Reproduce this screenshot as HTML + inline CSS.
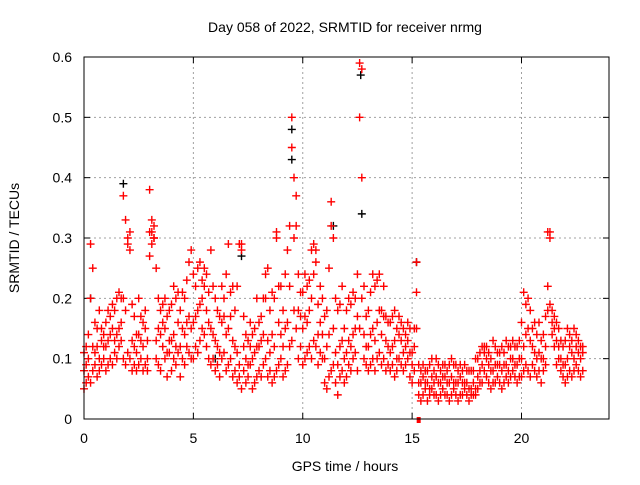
<!DOCTYPE html>
<html><head><meta charset="utf-8"><style>
body{margin:0;background:#fff;}
svg text{font-family:"Liberation Sans",sans-serif;font-size:14px;fill:#000;}
</style></head><body>
<svg id="chart" width="640" height="480" xmlns="http://www.w3.org/2000/svg">
<text x="345" y="32" text-anchor="middle">Day 058 of 2022, SRMTID for receiver nrmg</text>
<text x="345" y="471" text-anchor="middle">GPS time / hours</text>
<text transform="translate(19,238) rotate(-90)" text-anchor="middle">SRMTID / TECUs</text>
<g id="grid"></g>
<g id="ticks"></g>
<g id="marks"></g>
<rect x="84" y="57" width="525" height="362" fill="none" stroke="#000" stroke-width="1"/>
</svg>
<script>
const xTicks=[0,5,10,15,20];
const yTicks=[0,0.1,0.2,0.3,0.4,0.5,0.6];
const yTickLabels=["0","0.1","0.2","0.3","0.4","0.5","0.6"];
const t0=0, dt=0.1;
const lo=[5,6,7,6,8,9,7,8,9,10, 8,9,10,9,11,10,12,13,10,9, 11,10,8,9,8,9,10,8,9,8, 27,29,30,10,9,8,12,10,7,11, 8,10,9,11,7,10,9,12,11,10, 10,12,11,13,15,14,12,10,9,10, 8,9,7,10,11,8,9,10,7,8, 6,7,5,8,6,7,9,5,6,7, 8,7,9,10,7,8,6,7,8,9, 10,7,8,9,12,13,18,15,10,12, 9,10,11,12,10,13,12,9,11,10, 6,5,7,8,9,6,4,7,8,6, 7,9,8,10,11,8,15,20,10,9, 8,9,10,8,10,11,9,10,8,9, 8,9,7,8,10,9,8,9,10,7, 6,8,15,4,3,4,5,3,4,5, 4,4,3,4,5,4,4,3,4,5, 4,3,4,4,5,4,3,4,4,4, 5,6,6,8,7,6,5,6,6,7, 6,5,6,7,6,7,8,7,6,7, 7,8,9,8,7,9,8,7,8,6, 8,9,18,19,14,12,9,10,8,7, 6,7,8,7,8,9,8,7,8];
const mid=[8,9,10,20,12,11,12,10,13,12, 12,13,14,15,13,14,15,16,20,18, 29,28,13,12,11,14,13,12,15,10, 31,31,30,13,15,14,16,15,11,13, 13,14,12,16,12,15,14,16,17,15, 16,17,18,19,20,22,18,16,15,14, 13,12,11,16,17,14,15,17,13,12, 11,9,28,12,10,9,12,10,11,12, 12,13,14,20,13,11,14,12,30,16, 14,12,15,16,22,45,30,32,18,17, 15,17,16,18,20,24,26,14,16,14, 10,12,14,32,15,11,9,12,13,10, 11,13,12,14,15,17,50,40,14,12, 12,14,15,13,16,18,14,17,13,12, 11,12,13,10,14,13,11,12,13,11, 9,12,21,6,6,7,6,6,5,7, 6,7,6,6,7,7,6,6,7,6, 6,6,7,6,6,6,5,5,6,5, 7,8,9,11,10,9,8,8,9,9, 9,8,9,9,8,10,10,9,9,10, 10,12,14,15,13,12,11,10,11,10, 10,12,22,30,16,15,13,12,10,9, 9,10,12,11,10,12,11,10,11];
const hi=[11,12,14,29,25,16,15,18,15,14, 16,18,17,19,18,20,21,20,37,33, 30,31,19,17,14,20,17,16,18,13, 38,33,32,25,20,18,19,20,17,18, 19,22,20,21,18,21,20,23,26,28, 24,22,25,26,23,25,24,21,28,22, 20,18,17,22,20,24,29,21,22,18, 22,29,29,17,14,13,16,14,15,20, 16,17,20,24,25,18,21,20,31,22, 22,18,24,28,32,50,40,37,24,21, 21,24,22,23,28,29,28,19,22,20, 17,18,25,36,30,20,18,19,22,15, 18,20,19,21,20,24,59,58,22,17, 18,21,24,22,23,24,18,22,17,16, 16,17,18,15,17,16,15,14,16,15, 11,15,26,9,8,9,8,8,9,10, 8,10,9,8,9,9,8,9,10,9, 9,8,9,8,9,8,8,8,8,10, 10,11,12,12,12,11,10,13,12,11, 11,12,11,13,12,12,13,12,12,13, 16,21,19,20,18,15,16,14,16,13, 14,17,31,31,18,17,16,15,13,12, 13,15,14,13,15,14,13,12,12];
const blackT=[0.3,1.8,6.0,7.2,9.5,9.5,11.4,12.65,12.7,15.2];
const blackV=[0.20,0.39,0.10,0.27,0.48,0.43,0.32,0.57,0.34,0.26];
const zeroT=[15.3];
const zeroV=[0];

const X0=84,X1=609,Y0=419,Y1=57,XMAX=24,YMAX=0.6;
const xs=v=>X0+(v/XMAX)*(X1-X0);
const ys=v=>Y0-(v/YMAX)*(Y0-Y1);
const NS="http://www.w3.org/2000/svg";
function mk(tag,attrs,parent){const e=document.createElementNS(NS,tag);for(const k in attrs)e.setAttribute(k,attrs[k]);parent.appendChild(e);return e;}
const grid=document.getElementById('grid'),ticks=document.getElementById('ticks'),marks=document.getElementById('marks');
xTicks.forEach(v=>{const x=xs(v);
 if(v>0){const g=mk('line',{x1:x,x2:x,y1:Y0,y2:Y1,stroke:'#a0a0a0','stroke-dasharray':'2,3'},grid);
 
 }
 mk('line',{x1:x,x2:x,y1:Y0,y2:Y0-6,stroke:'#000'},ticks);
 mk('line',{x1:x,x2:x,y1:Y1,y2:Y1+6,stroke:'#000'},ticks);
 const t=mk('text',{x:x,y:Y0+24,'text-anchor':'middle'},ticks);t.textContent=v;
 
 });
yTicks.forEach((v,i)=>{const y=ys(v);
 if(v>0&&v<YMAX){const g=mk('line',{x1:X0,x2:X1,y1:y,y2:y,stroke:'#a0a0a0','stroke-dasharray':'2,3'},grid);
 
 }
 mk('line',{x1:X0,x2:X0+6,y1:y,y2:y,stroke:'#000'},ticks);
 mk('line',{x1:X1,x2:X1-6,y1:y,y2:y,stroke:'#000'},ticks);
 const t=mk('text',{x:X0-12,y:y+5,'text-anchor':'end'},ticks);t.textContent=yTickLabels[i];
 
 });
function cross(t,v,col){const x=xs(t),y=ys(v);
 const p=mk('path',{d:`M${x-4},${y}h8M${x},${y-4}v8`,stroke:col,'stroke-width':1.4,fill:'none'},marks);
 
 }
blackT.forEach((t,i)=>cross(t,blackV[i],'#000'));
[lo,mid,hi].forEach(arr=>arr.forEach((v,i)=>cross(t0+i*dt,v/100,'#f00')));
zeroT.forEach((t,i)=>{const r=mk('rect',{x:xs(t)-2,y:ys(zeroV[i])-2,width:4,height:6,fill:'#f00'},marks);
 
 });
</script>
</body></html>
